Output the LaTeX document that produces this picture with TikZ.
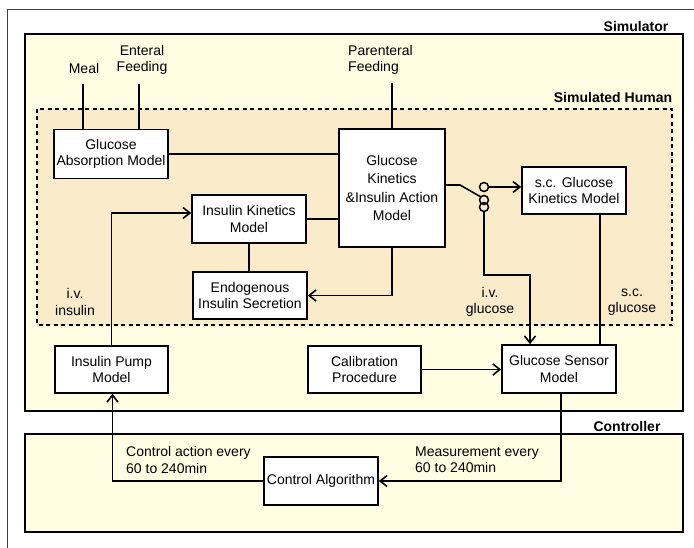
\documentclass[tikz,border=0pt]{standalone}
\usepackage{fontspec}
\setmainfont{Liberation Sans}
\usetikzlibrary{arrows.meta,calc}
\definecolor{simfill}{HTML}{FFFDE2}
\definecolor{humfill}{HTML}{FAEBCB}
\begin{document}
\begin{tikzpicture}[x=1pt,y=-1pt,
  font=\fontsize{14}{16.5}\selectfont,
  blk/.style={draw,line width=1.6pt,fill=white,align=center,inner sep=0pt},
  lbl/.style={align=center,inner sep=0pt},
  ttl/.style={inner sep=0pt,font=\fontsize{14}{16}\selectfont\bfseries},
  conn/.style={line width=1.6pt},
  arr/.style={line width=1.6pt,-{Straight Barb[length=7pt,width=11pt,line width=1.6pt]}},
  sw/.style={circle,draw,line width=1.5pt,minimum size=9pt,inner sep=0pt}]
\useasboundingbox (0,0) rectangle (694,548);
% outer thin frame (top and left)
\draw[line width=0.7pt,black!75] (7,548) -- (7,9) -- (694,9);
% simulator
\draw[fill=simfill,line width=1.8pt] (25,34) rectangle (683,411);
\node[ttl] (simlbl) at (636,26) {Simulator};
% simulated human
\fill[humfill] (37,109) rectangle (672,325);
\draw[line width=1.8pt,dash pattern=on 4pt off 3.5pt] (37,109) rectangle (672,325);
\node[ttl] (humlbl) at (613,97) {Simulated Human};
% controller
\draw[fill=simfill,line width=1.8pt] (25,434) rectangle (683,532);
\node[ttl] (ctrllbl) at (627,426) {Controller};

% blocks
\node[blk,minimum width=114pt,minimum height=49pt] (gam) at (111,154) {Glucose\\Absorption Model};
\node[blk,minimum width=106pt,minimum height=118pt,font=\fontsize{14}{18.3}\selectfont] (gk) at (392,188) {Glucose\\Kinetics\\\&Insulin Action\\Model};
\node[blk,minimum width=114pt,minimum height=48pt] (ikm) at (249,219) {Insulin Kinetics\\Model};
\node[blk,minimum width=114pt,minimum height=47pt] (eis) at (250,295.5) {Endogenous\\Insulin Secretion};
\node[blk,minimum width=113pt,minimum height=47pt] (ipm) at (111.5,369.5) {Insulin Pump\\Model};
\node[blk,minimum width=113pt,minimum height=47pt] (cal) at (364.5,369.5) {Calibration\\Procedure};
\node[blk,minimum width=114pt,minimum height=48pt] (gsm) at (559,369) {Glucose Sensor\\Model};
\node[blk,minimum width=104pt,minimum height=47pt] (scg) at (574,190.5) {s.c. Glucose\\Kinetics Model};
\node[blk,minimum width=114pt,minimum height=48pt] (ca) at (321,481) {Control Algorithm};

% text labels
\node[lbl] (meal) at (84,68) {Meal};
\node[lbl] (enteral) at (142,60) {Enteral\\Feeding};
\node[lbl,align=left,anchor=west] (parent) at (348,60) {Parenteral\\Feeding};
\node[lbl] (ivins) at (75,302) {i.v.\\insulin};
\node[lbl] (ivglu) at (490,302) {i.v.\\glucose};
\node[lbl] (scglu) at (632,302) {s.c.\\glucose};
\node[lbl,align=left,anchor=west] (ctrlact) at (126,460) {Control action every\\60 to 240min};
\node[lbl,align=left,anchor=west] (meas) at (415,460) {Measurement every\\60 to 240min};

% inputs
\coordinate (mealend) at (83,84);
\coordinate (entend) at (139,84);
\coordinate (parend) at (392,83);
\draw[conn] (mealend) -- (mealend |- gam.north);
\draw[conn] (entend) -- (entend |- gam.north);
\draw[conn] (parend) -- (gk.north);

% internal connections
\draw[conn] (gam.east) -- (gam.east -| gk.west);
\draw[conn] (ikm.east) -- (ikm.east -| gk.west);
\draw[conn] (ikm.south) -- (ikm.south |- eis.north);
\draw[arr] (gk.south) |- (eis.east);
\coordinate (ikin) at ($(ikm.west)+(0,-6)$);
\draw[arr] (ipm.north) |- (ikin);

% switch
\node[sw] (c1) at (484,187) {};
\node[sw] (c2) at (484,200) {};
\node[sw] (c3) at (484,207) {};
\coordinate (swa) at ($(gk.east)+(0,-3)$);
\coordinate (swb) at (460,185);
\coordinate (swc) at (481,197);
\draw[conn] (swa) -- (swb) -- (swc);
\draw[arr] (c1.east) -- (c1.east -| scg.west);
\coordinate (ivc) at (530,275);
\draw[arr] (c3.south) |- (ivc) -- (ivc |- gsm.north);
\coordinate (scb) at ($(scg.south)+(26,0)$);
\draw[conn] (scb) -- (scb |- gsm.north);
\draw[arr] (cal.east) -- (cal.east -| gsm.west);

% controller loop
\coordinate (gsb) at ($(gsm.south)+(2,0)$);
\draw[arr] (gsb) |- (ca.east);
\coordinate (ipb) at ($(ipm.south)+(1,0)$);
\draw[arr] (ca.west) -| (ipb);
\end{tikzpicture}
\end{document}
